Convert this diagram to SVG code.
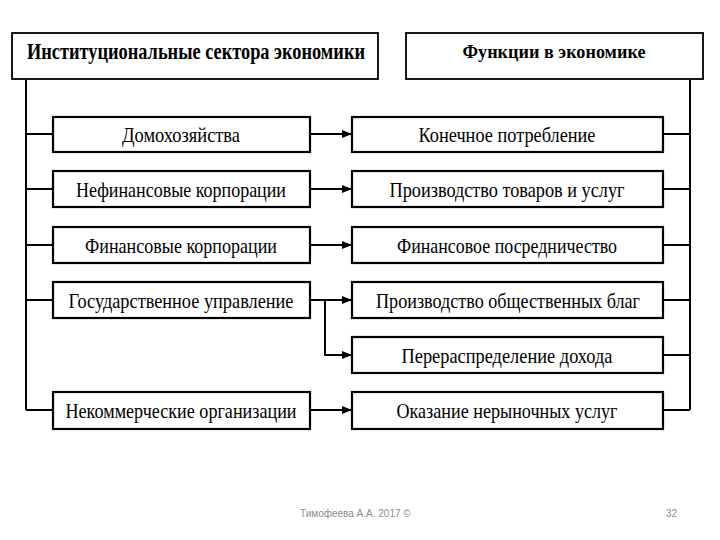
<svg xmlns="http://www.w3.org/2000/svg" width="720" height="540" viewBox="0 0 720 540">
<style>
.box{fill:#fff;stroke:#000;stroke-width:2.2}
.hdr{fill:#fff;stroke:#000;stroke-width:1.8}
.t{font-family:"Liberation Serif","Times New Roman",serif;font-size:21px;fill:#000;text-anchor:middle}
.h{font-family:"Liberation Serif","Times New Roman",serif;font-weight:bold;fill:#000;text-anchor:middle}
.ln{fill:none;stroke:#000;stroke-width:2}
.ft{font-family:"Liberation Sans",Arial,sans-serif;font-size:10px;fill:#8c8c8c}
</style>
<defs>
<marker id="arr" markerWidth="10" markerHeight="8" refX="9" refY="4" orient="auto" markerUnits="userSpaceOnUse">
<path d="M0,0 L10,4 L0,8 Z" fill="#000"/>
</marker>
</defs>
<rect width="720" height="540" fill="#fff"/>
<g id="connectors">
<path class="ln" d="M26,80 V410"/>
<path class="ln" d="M26,134 H53 M26,189 H53 M26,245 H53 M26,300 H53 M26,410 H53"/>
<path class="ln" d="M690,80 V410"/>
<path class="ln" d="M663,134 H690 M663,189 H690 M663,245 H690 M663,300 H690 M663,355 H690 M663,410 H690"/>
<path class="ln" d="M310,134 H351" marker-end="url(#arr)"/>
<path class="ln" d="M310,189 H351" marker-end="url(#arr)"/>
<path class="ln" d="M310,245 H351" marker-end="url(#arr)"/>
<path class="ln" d="M310,300 H351" marker-end="url(#arr)"/>
<path class="ln" d="M325,300 V355 H351" marker-end="url(#arr)"/>
<path class="ln" d="M310,410 H351" marker-end="url(#arr)"/>
</g>
<g id="header-sectors">
<rect class="hdr" x="12" y="33" width="366" height="46"/>
<text class="h" x="196" y="59" font-size="24" textLength="338" lengthAdjust="spacingAndGlyphs">Институциональные сектора экономики</text>
</g>
<g id="header-functions">
<rect class="hdr" x="406" y="33" width="297" height="46"/>
<text class="h" x="554" y="58" font-size="18" textLength="183" lengthAdjust="spacingAndGlyphs">Функции в экономике</text>
</g>
<g id="households">
<rect class="box" x="53" y="117" width="257" height="35"/>
<text class="t" x="181" y="142" textLength="118" lengthAdjust="spacingAndGlyphs">Домохозяйства</text>
</g>
<g id="nonfin-corp">
<rect class="box" x="53" y="171" width="257" height="36"/>
<text class="t" x="181" y="197" textLength="210" lengthAdjust="spacingAndGlyphs">Нефинансовые корпорации</text>
</g>
<g id="fin-corp">
<rect class="box" x="53" y="227" width="257" height="36"/>
<text class="t" x="181" y="253" textLength="192" lengthAdjust="spacingAndGlyphs">Финансовые корпорации</text>
</g>
<g id="government">
<rect class="box" x="53" y="282" width="257" height="36"/>
<text class="t" x="181" y="308" textLength="225" lengthAdjust="spacingAndGlyphs">Государственное управление</text>
</g>
<g id="nonprofit">
<rect class="box" x="53" y="392" width="257" height="37"/>
<text class="t" x="181" y="418" textLength="231" lengthAdjust="spacingAndGlyphs">Некоммерческие организации</text>
</g>
<g id="final-consumption">
<rect class="box" x="352" y="117" width="311" height="35"/>
<text class="t" x="507" y="142" textLength="177" lengthAdjust="spacingAndGlyphs">Конечное потребление</text>
</g>
<g id="production-goods">
<rect class="box" x="352" y="171" width="311" height="36"/>
<text class="t" x="507" y="197" textLength="235" lengthAdjust="spacingAndGlyphs">Производство товаров и услуг</text>
</g>
<g id="fin-intermediation">
<rect class="box" x="352" y="227" width="311" height="36"/>
<text class="t" x="507" y="253" textLength="220" lengthAdjust="spacingAndGlyphs">Финансовое посредничество</text>
</g>
<g id="public-goods">
<rect class="box" x="352" y="282" width="311" height="36"/>
<text class="t" x="508" y="308" textLength="264" lengthAdjust="spacingAndGlyphs">Производство общественных благ</text>
</g>
<g id="redistribution">
<rect class="box" x="352" y="337" width="311" height="36"/>
<text class="t" x="507" y="363" textLength="211" lengthAdjust="spacingAndGlyphs">Перераспределение дохода</text>
</g>
<g id="nonmarket-services">
<rect class="box" x="352" y="392" width="311" height="37"/>
<text class="t" x="507" y="418" textLength="221" lengthAdjust="spacingAndGlyphs">Оказание нерыночных услуг</text>
</g>
<g id="footer">
<text class="ft" x="300" y="517">Тимофеева А.А. 2017 ©</text>
<text class="ft" x="666" y="517">32</text>
</g>
</svg>
